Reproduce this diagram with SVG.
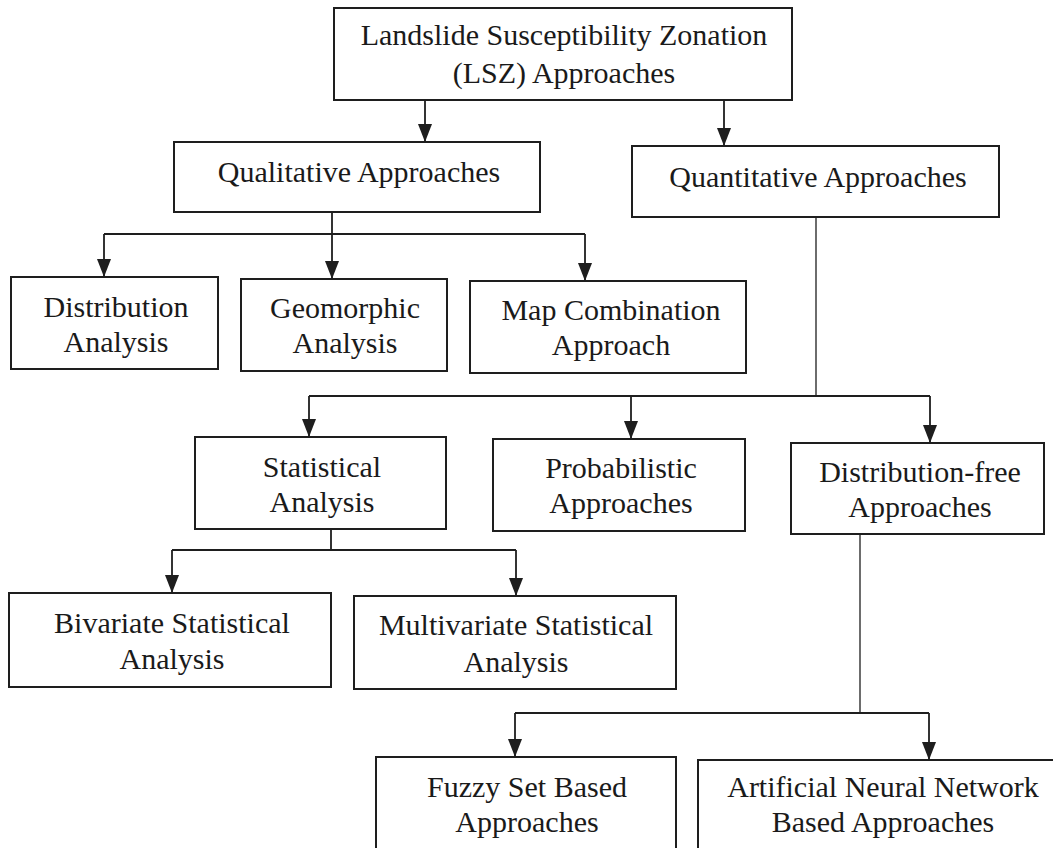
<svg xmlns="http://www.w3.org/2000/svg" width="1053" height="848" viewBox="0 0 1053 848">
  <style>
    .box { fill: #ffffff; stroke: #1e1e1e; stroke-width: 2; }
    .lbl { font-family: "Liberation Serif", "Times New Roman", serif; font-size: 30px; fill: #1a1a1a; text-anchor: middle; }
    .wire { fill: none; stroke: #1e1e1e; stroke-width: 1.8; }
    .thin { fill: none; stroke: #1e1e1e; stroke-width: 1.3; }
    .arr { fill: none; stroke: #1e1e1e; stroke-width: 1.8; marker-end: url(#head); }
  </style>
  <defs>
    <marker id="head" viewBox="0 0 18 14" refX="18" refY="7" markerWidth="18" markerHeight="14" markerUnits="userSpaceOnUse" orient="auto">
      <path d="M0,0 L18,7 L0,14 Z" fill="#1e1e1e"/>
    </marker>
  </defs>
  <rect width="1053" height="848" fill="#ffffff"/>

  <!-- connectors -->
  <g id="connectors">
    <path class="arr" d="M425 100 V142"/>
    <path class="arr" d="M724 100 V146"/>

    <path class="wire" d="M332 212 V234 M104 234 H585"/>
    <path class="arr" d="M104 234 V277"/>
    <path class="arr" d="M332 234 V279"/>
    <path class="arr" d="M585 234 V281"/>

    <path class="thin" d="M816 217 V396"/>
    <path class="wire" d="M309 396 H930"/>
    <path class="arr" d="M309 396 V437"/>
    <path class="arr" d="M631 396 V439"/>
    <path class="arr" d="M930 396 V443"/>

    <path class="wire" d="M331 529 V550 M172 550 H516"/>
    <path class="arr" d="M172 550 V593"/>
    <path class="arr" d="M516 550 V596"/>

    <path class="thin" d="M860 534 V713"/>
    <path class="wire" d="M515 713 H929"/>
    <path class="arr" d="M515 713 V757"/>
    <path class="arr" d="M929 713 V760"/>
  </g>

  <!-- nodes -->
  <g id="lsz">
    <rect class="box" x="334" y="8" width="458" height="92"/>
    <text class="lbl" x="564" y="45">Landslide Susceptibility Zonation</text>
    <text class="lbl" x="564" y="83">(LSZ) Approaches</text>
  </g>
  <g id="qualitative">
    <rect class="box" x="174" y="142" width="366" height="70"/>
    <text class="lbl" x="359" y="182">Qualitative Approaches</text>
  </g>
  <g id="quantitative">
    <rect class="box" x="632" y="146" width="367" height="71"/>
    <text class="lbl" x="818" y="187">Quantitative Approaches</text>
  </g>
  <g id="distribution">
    <rect class="box" x="11" y="277" width="207" height="92"/>
    <text class="lbl" x="116" y="317">Distribution</text>
    <text class="lbl" x="116" y="352">Analysis</text>
  </g>
  <g id="geomorphic">
    <rect class="box" x="241" y="279" width="206" height="92"/>
    <text class="lbl" x="345" y="318">Geomorphic</text>
    <text class="lbl" x="345" y="353">Analysis</text>
  </g>
  <g id="map-combination">
    <rect class="box" x="470" y="281" width="276" height="92"/>
    <text class="lbl" x="611" y="320">Map Combination</text>
    <text class="lbl" x="611" y="355">Approach</text>
  </g>
  <g id="statistical">
    <rect class="box" x="195" y="437" width="251" height="92"/>
    <text class="lbl" x="322" y="477">Statistical</text>
    <text class="lbl" x="322" y="512">Analysis</text>
  </g>
  <g id="probabilistic">
    <rect class="box" x="493" y="439" width="252" height="92"/>
    <text class="lbl" x="621" y="478">Probabilistic</text>
    <text class="lbl" x="621" y="513">Approaches</text>
  </g>
  <g id="distribution-free">
    <rect class="box" x="791" y="443" width="253" height="91"/>
    <text class="lbl" x="920" y="482">Distribution-free</text>
    <text class="lbl" x="920" y="517">Approaches</text>
  </g>
  <g id="bivariate">
    <rect class="box" x="9" y="593" width="322" height="94"/>
    <text class="lbl" x="172" y="633">Bivariate Statistical</text>
    <text class="lbl" x="172" y="669">Analysis</text>
  </g>
  <g id="multivariate">
    <rect class="box" x="354" y="596" width="322" height="93"/>
    <text class="lbl" x="516" y="635">Multivariate Statistical</text>
    <text class="lbl" x="516" y="672">Analysis</text>
  </g>
  <g id="fuzzy">
    <rect class="box" x="376" y="757" width="300" height="100"/>
    <text class="lbl" x="527" y="797">Fuzzy Set Based</text>
    <text class="lbl" x="527" y="832">Approaches</text>
  </g>
  <g id="ann">
    <rect class="box" x="698" y="760" width="370" height="100"/>
    <text class="lbl" x="883" y="797">Artificial Neural Network</text>
    <text class="lbl" x="883" y="832">Based Approaches</text>
  </g>
</svg>
